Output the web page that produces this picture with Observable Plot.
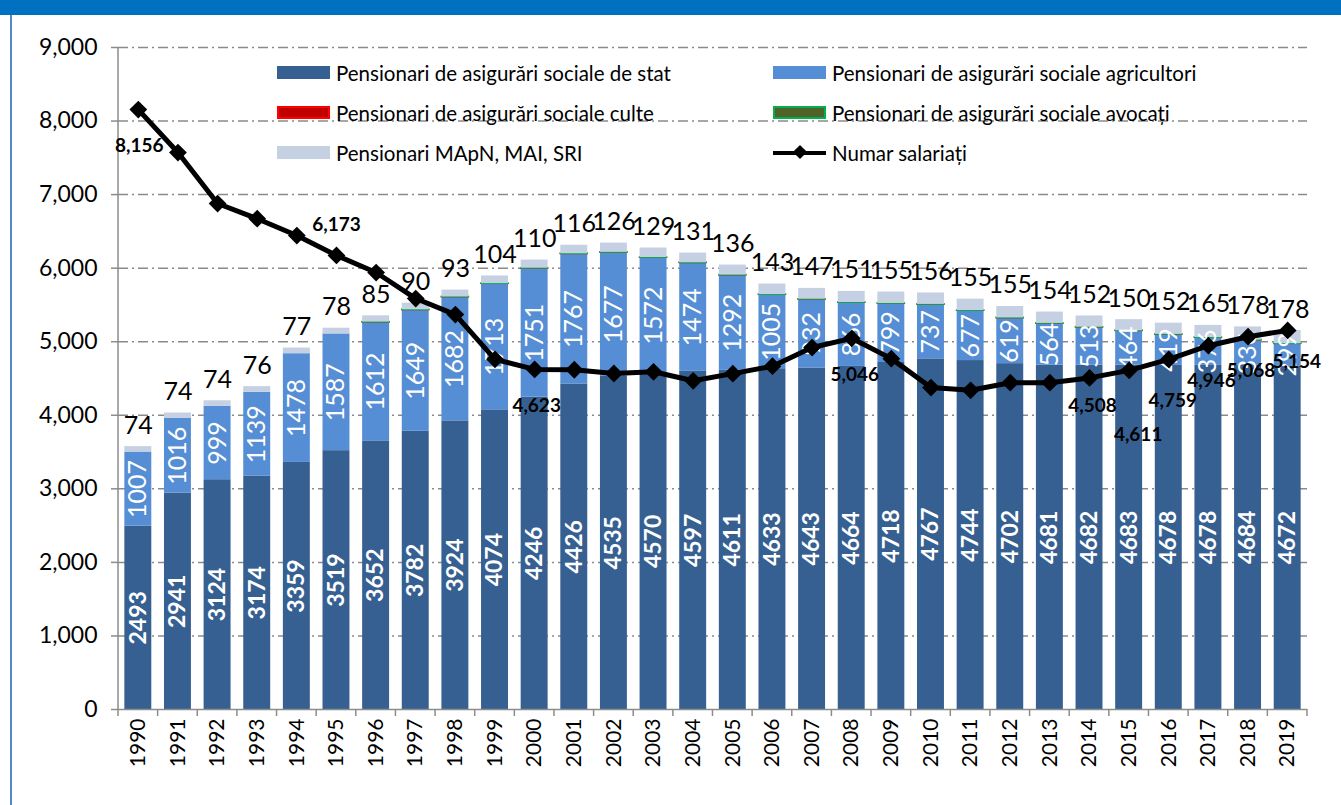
<!DOCTYPE html>
<html>
<head>
<meta charset="utf-8">
<script src="https://cdn.jsdelivr.net/npm/d3@7"></script>
<script src="https://cdn.jsdelivr.net/npm/@observablehq/plot@0.6"></script>
<style>
  body { margin: 0; background: #fff; }
  #wrap { position: relative; width: 1341px; height: 805px; overflow: hidden; background: #fff; font-family: Lato, "Open Sans", sans-serif; }
  #chart { position: absolute; left: 0; top: 0; }
  #topband { position: absolute; left: 0; top: 0; width: 1341px; height: 15px; background: #0070C0; }
  #leftborder { position: absolute; left: 10px; top: 15px; width: 2px; height: 790px; background: #4F8BCB; }
  #legend { position: absolute; left: 277px; top: 61px; display: grid; grid-template-columns: 496px 440px; row-gap: 17px; }
  .item { display: flex; align-items: center; height: 23px; font-size: 20.5px; color: #000; white-space: nowrap; }
  .sw { width: 53px; height: 13px; margin-right: 6px; box-sizing: border-box; flex: none; }
  .lsw { width: 53px; height: 13px; margin-right: 6px; position: relative; flex: none; }
  .lsw .ln { position: absolute; left: 0; top: 4.5px; width: 53px; height: 4px; background: #000; }
  .lsw .dm { position: absolute; left: 21.5px; top: 1px; width: 10px; height: 10px; background: #000; transform: rotate(45deg); }
</style>
</head>
<body>
<div id="wrap">
  <div id="chart"></div>
  <div id="topband"></div>
  <div id="leftborder"></div>
  <div id="legend"></div>
</div>
<script>
// ---------------- DATA (thousands) ----------------
const years = [1990,1991,1992,1993,1994,1995,1996,1997,1998,1999,2000,2001,2002,2003,2004,2005,2006,2007,2008,2009,2010,2011,2012,2013,2014,2015,2016,2017,2018,2019];
const stat = [2493,2941,3124,3174,3359,3519,3652,3782,3924,4074,4246,4426,4535,4570,4597,4611,4633,4643,4664,4718,4767,4744,4702,4681,4682,4683,4678,4678,4684,4672];
const agricultori = [1007,1016,999,1139,1478,1587,1612,1649,1682,1713,1751,1767,1677,1572,1474,1292,1005,932,866,799,737,677,619,564,513,464,419,376,336,299];
const culte = [0,0,0,0,0,0,1,1,1,1,1,1,1,1,1,1,1,1,1,1,1,1,1,2,1,1,1,1,1,1];
const avocati = [0,0,0,0,0,0,2,2,2,2,2,2,2,2,2,2,2,2,2,2,2,2,2,2,2,2,2,2,2,2];
const mapn = [74,74,74,76,77,78,85,90,93,104,110,116,126,129,131,136,143,147,151,155,156,155,155,154,152,150,152,165,178,178];
const salariati = [8156,7572,6879,6672,6444,6173,5941,5587,5369,4761,4623,4619,4568,4591,4469,4566,4667,4921,5046,4770,4377,4340,4443,4443,4508,4611,4759,4946,5068,5154];
const salariatiLabelYears = [1990,1995,2000,2008,2014,2015,2016,2017,2018,2019];
const yTicks = [0,1000,2000,3000,4000,5000,6000,7000,8000,9000];

const seriesKeys = ["stat","agri","culte","avocati","mapn"];
const seriesNames = {
  stat: "Pensionari de asigurări sociale de stat",
  agri: "Pensionari de asigurări sociale agricultori",
  culte: "Pensionari de asigurări sociale culte",
  avocati: "Pensionari de asigurări sociale avocați",
  mapn: "Pensionari MApN, MAI, SRI"
};
const lineName = "Numar salariați";

// ---------------- STYLE ----------------
const fills = {stat: "#376092", agri: "#558ED5", culte: "#C00000", avocati: "#4F6228", mapn: "#C5D0E2"};
const strokes = {stat: "none", agri: "none", culte: "#FF0000", avocati: "#00B050", mapn: "none"};
const labelOffsets = {1990: [1, 36], 1995: [0, -31], 2000: [2, 36], 2008: [3, 37], 2014: [3, 28], 2015: [9, 65], 2016: [4, 41], 2017: [3, 35], 2018: [3, 34], 2019: [9, 32]};

const W = 1341, H = 805, ML = 118, MR = 34, MT = 47, MB = 96;

// ---------------- TABLES ----------------
const seriesVals = {stat, agri: agricultori, culte, avocati, mapn};
const table = years.flatMap((yr, i) => seriesKeys.map(k => ({year: yr, series: k, value: seriesVals[k][i]}))).filter(d => d.value > 0);
const lineData = years.map((yr, i) => ({year: yr, value: salariati[i]}));
const fmt = d3.format(",");

function axisFrame(index, scales, values, dims) {
  const x0 = dims.marginLeft, x1 = dims.width - dims.marginRight;
  const yb = dims.height - dims.marginBottom;
  const g = d3.create("svg:g").attr("stroke", "#8c8c8c").attr("stroke-width", 1.5);
  g.append("line").attr("x1", x0).attr("x2", x0).attr("y1", dims.marginTop).attr("y2", yb);
  const n = years.length, step = (x1 - x0) / n;
  for (let k = 0; k <= n; k++) {
    g.append("line").attr("x1", x0 + k * step).attr("x2", x0 + k * step).attr("y1", yb).attr("y2", yb + 7);
  }
  return g.node();
}

const stackOpts = {x: "year", y: "value", z: "series", order: seriesKeys};

const plot = Plot.plot({
  width: W, height: H,
  marginLeft: ML, marginRight: MR, marginTop: MT, marginBottom: MB,
  style: {fontFamily: "Lato, 'Open Sans', sans-serif", fontSize: "22px", color: "#000", background: "transparent"},
  x: {type: "band", domain: years, paddingInner: 0.32, paddingOuter: 0.16, round: false, label: null},
  y: {domain: [0, 9000], label: null},
  color: {type: "identity"},
  marks: [
    Plot.ruleY(yTicks.filter(v => v > 0), {stroke: "#8a8a8a", strokeWidth: 1.5, strokeDasharray: "10,4,2,4"}),
    Plot.barY(table, Plot.stackY({...stackOpts, fill: d => fills[d.series], stroke: d => strokes[d.series], strokeWidth: 1.5})),
    Plot.ruleY([0], {stroke: "#8c8c8c", strokeWidth: 1.5}),
    axisFrame,
    Plot.axisY({ticks: yTicks, tickFormat: fmt, tickSize: 7, tickPadding: 14, stroke: "#8c8c8c", strokeWidth: 1.5, fontSize: 23, label: null}),
    Plot.axisX({tickSize: 0, tickRotate: -90, tickPadding: 9, tickFormat: d => String(d), fontSize: 21, label: null}),
    Plot.text(table, Plot.stackY({...stackOpts, text: d => d.series === "stat" ? String(d.value) : null, rotate: -90, fill: "white", fontWeight: "bold", fontSize: 23})),
    Plot.text(table, Plot.stackY({...stackOpts, text: d => d.series === "agri" ? String(d.value) : null, rotate: -90, fill: "white", fontSize: 25})),
    Plot.text(table, Plot.stackY2({...stackOpts, text: d => d.series === "mapn" ? String(d.value) : null, dy: -21, fill: "black", fontSize: 25})),
    Plot.line(lineData, {x: "year", y: "value", stroke: "black", strokeWidth: 5}),
    Plot.dot(lineData, {x: "year", y: "value", symbol: "diamond2", r: 8, fill: "black", stroke: "none"}),
    ...salariatiLabelYears.map(yr => Plot.text(lineData.filter(d => d.year === yr), {
      x: "year", y: "value", text: d => fmt(d.value), dx: labelOffsets[yr][0], dy: labelOffsets[yr][1],
      fontWeight: "bold", fontSize: 19, fill: "black"
    }))
  ]
});
document.getElementById("chart").appendChild(plot);

// ---------------- LEGEND ----------------
const legend = document.getElementById("legend");
const legendOrder = ["stat", "agri", "culte", "avocati", "mapn", "line"];
for (const k of legendOrder) {
  const item = document.createElement("div");
  item.className = "item";
  if (k === "line") {
    item.innerHTML = `<span class="lsw"><span class="ln"></span><span class="dm"></span></span><span>${lineName}</span>`;
  } else {
    const border = strokes[k] === "none" ? "none" : `2px solid ${strokes[k]}`;
    item.innerHTML = `<span class="sw" style="background:${fills[k]};border:${border}"></span><span>${seriesNames[k]}</span>`;
  }
  legend.appendChild(item);
}
</script>
</body>
</html>
